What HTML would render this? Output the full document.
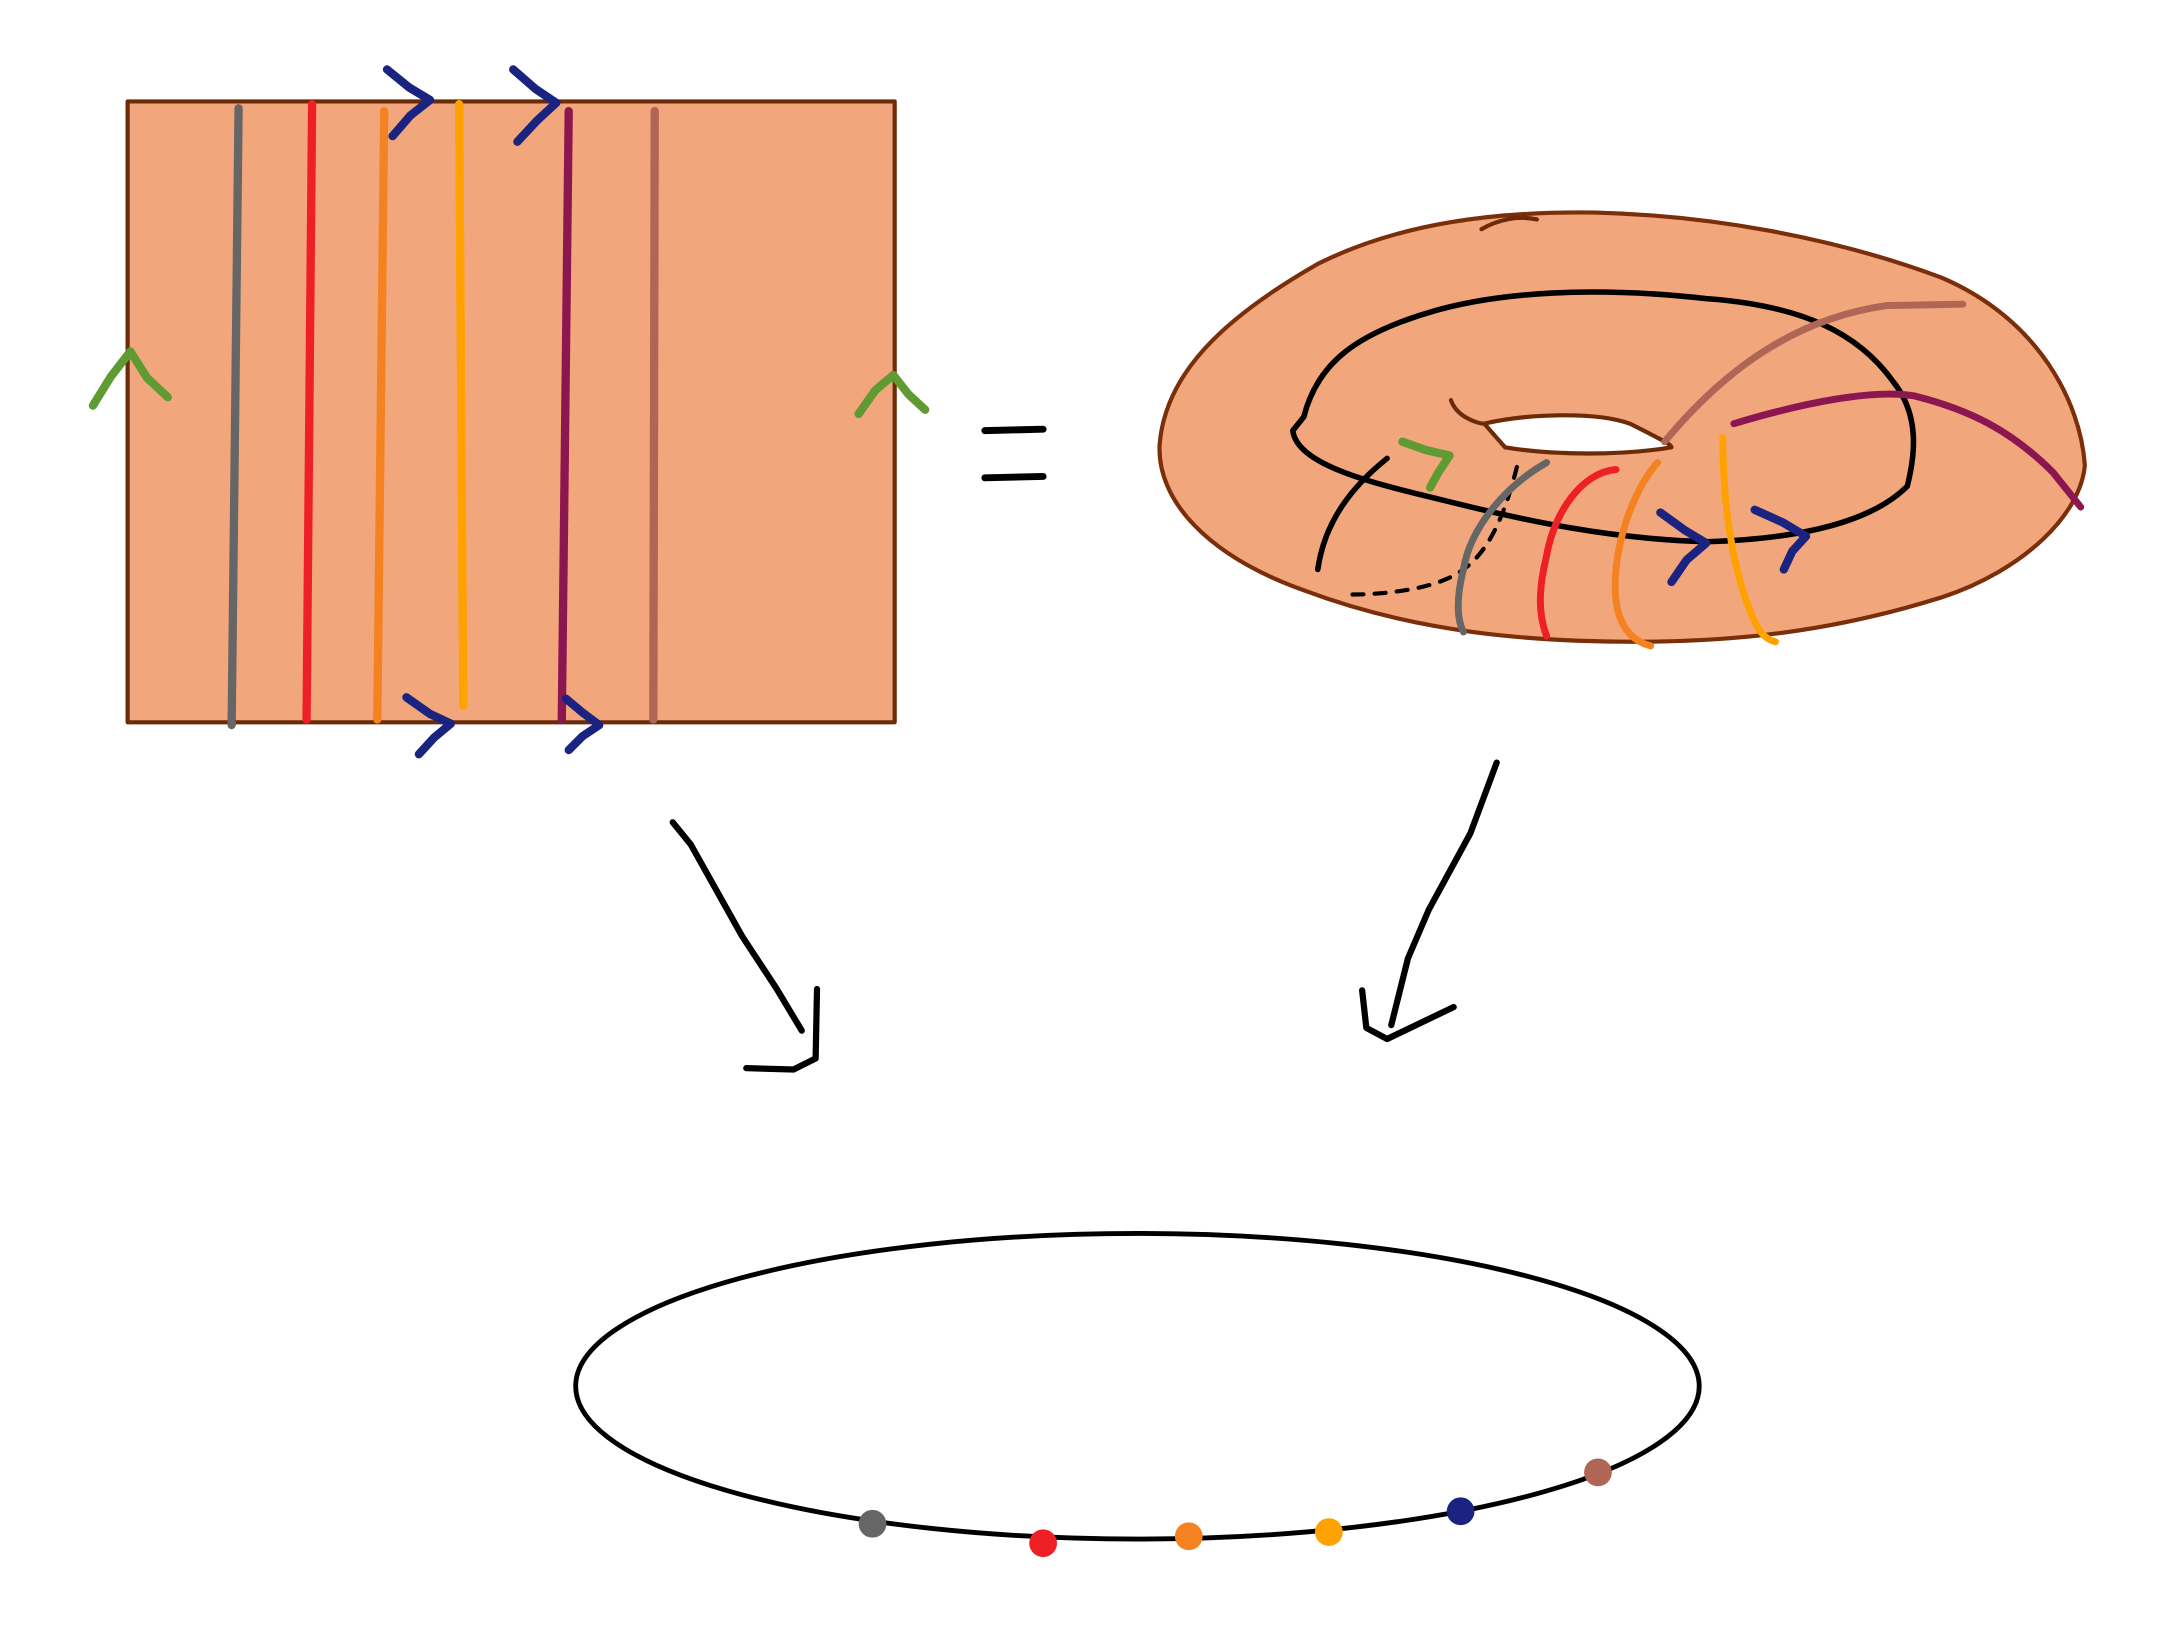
<!DOCTYPE html>
<html><head><meta charset="utf-8"><style>
html,body{margin:0;padding:0;background:#fff;}
svg{display:block;}
</style></head><body>
<svg width="2175" height="1646" viewBox="0 0 1568 1185" preserveAspectRatio="none" xmlns="http://www.w3.org/2000/svg">
<g fill="none" stroke-linecap="round" stroke-linejoin="round">
<!-- square -->
<rect x="92" y="73" width="553" height="447" fill="#F2A67C" stroke="#6b2a08" stroke-width="3"/>
<line x1="172" y1="78" x2="167" y2="522" stroke="#666" stroke-width="6"/>
<line x1="225" y1="75" x2="221" y2="518" stroke="#ee2026" stroke-width="6"/>
<line x1="277" y1="80" x2="272" y2="518" stroke="#f58220" stroke-width="6"/>
<line x1="331" y1="75" x2="334" y2="508" stroke="#ffa200" stroke-width="6"/>
<line x1="410" y1="80" x2="405" y2="518" stroke="#8b1650" stroke-width="6"/>
<line x1="472" y1="80" x2="471" y2="518" stroke="#b06656" stroke-width="6"/>
<g stroke="#1a2380" stroke-width="6">
<polyline points="279,50 295,63 310,72 296,83 283,98"/>
<polyline points="370,50 386,64 401,74 387,87 373,102"/>
<polyline points="293,502 310,514 325,521 313,531 302,543"/>
<polyline points="408,503 420,513 432,522 420,530 410,540"/>
</g>
<g stroke="#5f9a33" stroke-width="6">
<polyline points="67,292 80,271 94,253 106,272 121,286"/>
<polyline points="619,298 631,281 644,270 655,284 667,295"/>
</g>
<line x1="710" y1="310" x2="752" y2="309" stroke="#000" stroke-width="5"/>
<line x1="710" y1="344" x2="752" y2="343" stroke="#000" stroke-width="5"/>
<!-- torus -->
<path d="M836,320 C840,270 880,230 950,190 C1010,160 1080,152 1150,153 C1230,155 1320,170 1400,200 C1470,230 1500,290 1503,335 C1500,370 1460,410 1400,430 C1320,455 1250,462 1180,462 C1100,462 1020,455 940,425 C870,400 834,360 836,320 Z" fill="#F2A67C" stroke="#7a2e0a" stroke-width="3"/>
<path d="M1070,305 C1100,298 1150,296 1175,305 C1195,315 1205,320 1205,322 C1170,328 1120,328 1085,322 Z" fill="#fff" stroke="#6b2a08" stroke-width="3"/>
<path d="M1046,288 C1050,300 1065,305 1070,305" stroke="#6b2a08" stroke-width="3"/>
<path d="M1068,165 C1080,158 1095,155 1108,158" stroke="#6b2a08" stroke-width="3"/>
<path d="M940,300 C950,260 980,240 1030,225 C1080,210 1150,206 1230,215 C1300,220 1340,240 1365,275 C1385,300 1380,330 1375,350 C1350,375 1300,388 1230,390 C1160,388 1100,375 1040,360 C990,348 935,335 932,310 Z" stroke="#000" stroke-width="4"/>
<path d="M1000,330 C975,350 955,375 950,410" stroke="#000" stroke-width="4"/>
<path d="M975,428 C990,428 1020,426 1040,418 C1060,410 1080,395 1095,330" stroke="#000" stroke-width="3" stroke-dasharray="8,8"/>
<path d="M1200,318 C1240,270 1290,230 1360,220 L1415,219" stroke="#b06656" stroke-width="5"/>
<path d="M1250,305 C1300,290 1350,280 1380,285 C1420,295 1450,310 1480,340 L1500,365" stroke="#8b1650" stroke-width="5"/>
<path d="M1115,333 C1085,350 1060,380 1055,410 C1050,430 1050,445 1055,455" stroke="#666" stroke-width="5"/>
<path d="M1165,338 C1140,340 1120,370 1115,400 C1110,420 1108,440 1115,458" stroke="#ee2026" stroke-width="5"/>
<path d="M1195,333 C1180,350 1168,380 1165,410 C1162,440 1170,460 1190,465" stroke="#f58220" stroke-width="5"/>
<path d="M1242,315 C1242,360 1248,400 1258,430 C1265,450 1270,460 1280,462" stroke="#ffa200" stroke-width="5"/>
<g stroke="#1a2380" stroke-width="6">
<polyline points="1197,369 1215,382 1230,391 1216,403 1205,419"/>
<polyline points="1265,367 1285,376 1302,386 1292,397 1286,410"/>
</g>
<polyline points="1011,318 1028,324 1045,328 1037,340 1031,351" stroke="#5f9a33" stroke-width="6"/>
<!-- down arrows -->
<g stroke="#000" stroke-width="4.5">
<polyline points="485,592 498,608 535,674 560,712 578,742"/>
<polyline points="538,769 572,770 588,762 589,712"/>
<polyline points="1079,549 1060,600 1030,655 1015,690 1003,738"/>
<polyline points="982,713 985,740 1000,748 1048,725"/>
</g>
<ellipse cx="820" cy="998" rx="405" ry="110" stroke="#000" stroke-width="3.5"/>
</g>
<g>
<circle cx="629" cy="1097" r="10" fill="#666"/>
<circle cx="752" cy="1111" r="10" fill="#ee2026"/>
<circle cx="857" cy="1106" r="10" fill="#f58220"/>
<circle cx="958" cy="1103" r="10" fill="#ffa200"/>
<circle cx="1053" cy="1088" r="10" fill="#1a2380"/>
<circle cx="1152" cy="1060" r="10" fill="#b06656"/>
</g>
</svg>
</body></html>
